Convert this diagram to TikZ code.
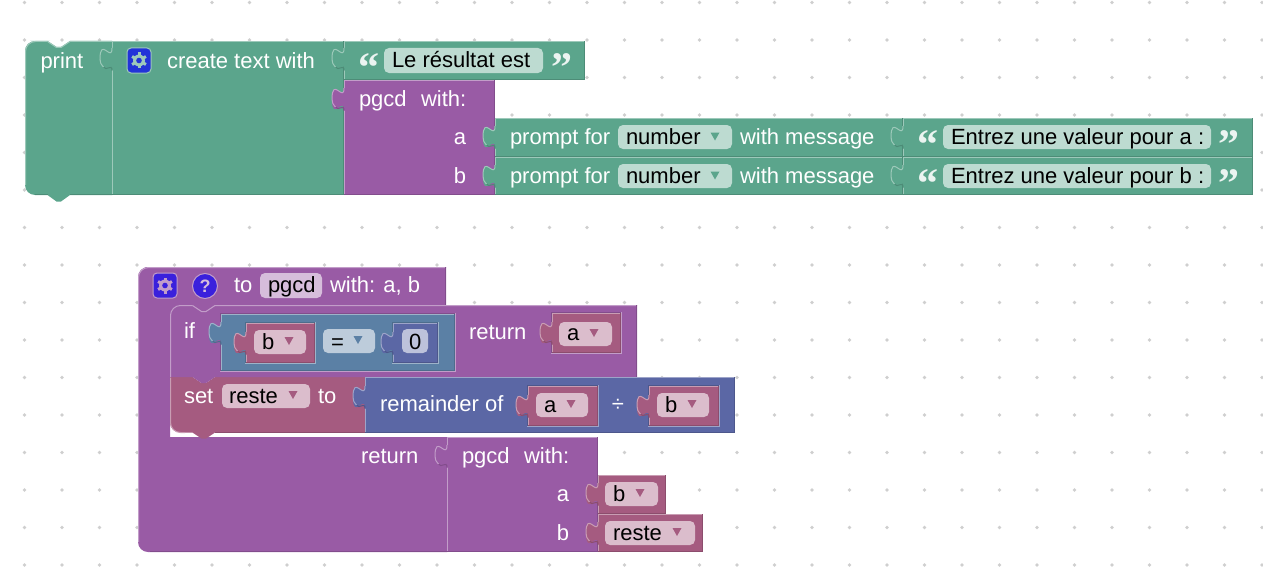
\documentclass[tikz,border=0pt]{standalone}
\usepackage{fontspec}
\setmainfont{Liberation Sans}
\newfontfamily\quotefont{Liberation Serif}
\usetikzlibrary{calc}

\definecolor{textgreen}{HTML}{5BA58C}
\definecolor{procpurple}{HTML}{995BA5}
\definecolor{varrose}{HTML}{A55B80}
\definecolor{mathblue}{HTML}{5B67A5}
\definecolor{logicblue}{HTML}{5B80A5}
\definecolor{griddot}{HTML}{CFCFCF}
\definecolor{geargreen}{HTML}{2233D8}
\definecolor{gearpurple}{HTML}{3A20DC}

\tikzset{
    lbl/.style={inner sep=0pt,outer sep=0pt,text=white,font=\fontsize{22}{26}\selectfont},
    lblw/.style={lbl,anchor=base west},
    lble/.style={lbl,anchor=base east},
    val/.style={lblw,text=black},
    quotemark/.style={inner sep=0pt,outer sep=0pt,anchor=base west,text=textgreen!12!white,font=\quotefont\bfseries\fontsize{42}{42}\selectfont},
}

\newcommand{\quoteglyph}[1]{\raisebox{-15.5pt}[13pt][0pt]{#1}}
% x1, y1, x2, y2, colour
\newcommand{\rectblock}[5]{
    \fill[#5] (#1,#2) rectangle (#3,#4);
    \draw[#5!60!white] (#1+.5,#4) -- (#1+.5,#2+.5) -- (#3,#2+.5);
    \draw[#5!85!black] (#1,#4-.5) -- (#3-.5,#4-.5) -- (#3-.5,#2);
}
% x1, y1, x2, y2, colour, parent colour
\newcommand{\insetblock}[6]{
    \draw[#6!85!black] (#1-.5,#4) -- (#1-.5,#2-.5) -- (#3,#2-.5);
    \draw[#6!60!white] (#1-1,#4+.5) -- (#3+.5,#4+.5) -- (#3+.5,#2-1);
    \rectblock{#1}{#2}{#3}{#4}{#5}
}
% edge x, top y, colour
\newcommand{\puzzletab}[3]{
    \fill[#3] (#1+1,#2+22.5) -- (#1,#2+22.5) .. controls (#1,#2+7.5) and (#1-12,#2+34.5) .. (#1-12,#2+11.25)
        .. controls (#1-12,#2-12) and (#1,#2+15) .. (#1,#2) -- (#1+1,#2) -- cycle;
    \draw[#3!85!black] (#1,#2+22.5) .. controls (#1,#2+15) and (#1-6,#2+24) .. (#1-8.5,#2+19);
    \draw[#3!60!white] (#1-8.5,#2+19) .. controls (#1-11,#2+16) and (#1-12,#2+15) .. (#1-12,#2+11.25)
        .. controls (#1-12,#2-12) and (#1,#2+15) .. (#1,#2);
}
% x1, y1, x2, y2, colour
\newcommand{\fieldbox}[5]{
    \fill[#5!40!white,rounded corners=5pt] (#1,#2) rectangle (#3,#4);
}
% centre x, centre y, colour
\newcommand{\droparrow}[3]{
    \fill[#3] (#1-4.5,#2-4) -- (#1+4.5,#2-4) -- (#1,#2+4) -- cycle;
}
% centre x, centre y, fill, light
\newcommand{\gearicon}[4]{
    \fill[#3,draw=#4,rounded corners=4pt] (#1-12,#2-12.5) rectangle (#1+12,#2+12.5);
    \foreach \a in {0,60,...,300}
        \draw[#4,line width=3pt] (#1,#2) -- +(\a+30:8);
    \fill[#4] (#1,#2) circle (6);
    \fill[#3] (#1,#2) circle (2.8);
}

\begin{document}
\begin{tikzpicture}[x=1pt,y=-1pt,line width=1pt]
    \useasboundingbox (0,0) rectangle (1263,586);

    \foreach \i in {0,...,33}
        \foreach \j in {-1,...,14}
            \fill[griddot] (24.5+37.5*\i,40+37.5*\j) circle (1.8);

    % top stack
    \fill[textgreen] (25,120) [rounded corners=10pt] -- (25,41) -- (40,41) [sharp corners] -- (47.5,41) -- (56.5,47) -- (61,47) -- (70,41) -- (112,41)
        -- (112,195) -- (70,195) -- (61,201.5) -- (56.5,201.5) -- (47.5,195) -- (40,195) [rounded corners=10pt] -- (25,195) -- (25,120) [sharp corners] -- cycle;
    \draw[textgreen!60!white,rounded corners=10pt] (25.5,185) -- (25.5,41.5) -- (47.5,41.5);
    \draw[textgreen!60!white] (47.5,41.5) -- (56.5,47.5) -- (61,47.5) -- (70,41.5) -- (112,41.5);
    \draw[textgreen!85!black] (35,194.5) -- (47.5,194.5);
    \draw[textgreen!85!black] (70,194.5) -- (112,194.5);
    \rectblock{112}{41}{344}{195}{textgreen}
    \rectblock{344}{41}{585}{80}{textgreen}
    \rectblock{344}{80}{495}{195}{procpurple}
    \rectblock{495}{118}{903}{157}{textgreen}
    \rectblock{903}{118}{1253}{157}{textgreen}
    \rectblock{495}{157}{903}{195}{textgreen}
    \rectblock{903}{157}{1253}{195}{textgreen}

    \puzzletab{112}{48}{textgreen}
    \puzzletab{344}{48}{textgreen}
    \puzzletab{344}{88}{procpurple}
    \puzzletab{495}{126}{textgreen}
    \puzzletab{495}{165}{textgreen}
    \puzzletab{903}{126}{textgreen}
    \puzzletab{903}{165}{textgreen}

    \node[lblw] (print) at (40.5,68) {print};
    \gearicon{139}{60.5}{geargreen}{textgreen!60!white}
    \node[lblw] (create) at (167,68) {create text with};

    \node[quotemark] (openmsg) at (358,66) {\quoteglyph{“}};
    \fieldbox{384}{48}{543}{73}{textgreen}
    \node[val] (msg) at (392,67) {Le résultat est};
    \node[quotemark] (closemsg) at (551,66) {\quoteglyph{”}};

    \node[lblw] (callname) at (359,106) {pgcd};
    \node[lblw] (callwith) at (421,106) {with:};
    \node[lble] (calla) at (466,144) {a};
    \node[lble] (callb) at (466,183) {b};

    \node[lblw] (prompta) at (510,144) {prompt for};
    \fieldbox{618}{125}{732}{149}{textgreen}
    \node[val] (typea) at (626,144) {number};
    \droparrow{715}{136.5}{textgreen}
    \node[lblw] (witha) at (740,144) {with message};
    \node[quotemark] (opena) at (917,143) {\quoteglyph{“}};
    \fieldbox{943}{125}{1211}{149}{textgreen}
    \node[val] (msga) at (951,144) {Entrez une valeur pour a :};
    \node[quotemark] (closea) at (1218,143) {\quoteglyph{”}};

    \node[lblw] (promptb) at (510,183) {prompt for};
    \fieldbox{618}{164}{732}{188}{textgreen}
    \node[val] (typeb) at (626,183) {number};
    \droparrow{715}{175.5}{textgreen}
    \node[lblw] (withb) at (740,183) {with message};
    \node[quotemark] (openb) at (917,182) {\quoteglyph{“}};
    \fieldbox{943}{164}{1211}{188}{textgreen}
    \node[val] (msgb) at (951,183) {Entrez une valeur pour b :};
    \node[quotemark] (closeb) at (1218,182) {\quoteglyph{”}};

    % function block
    \fill[procpurple] (138,400) [rounded corners=10pt] -- (138,267) -- (155,267) [sharp corners] -- (446,267) -- (446,305) -- (170,305) -- (170,437) -- (447,437)
        -- (447,552) -- (155,552) [rounded corners=10pt] -- (138,552) -- (138,400) [sharp corners] -- cycle;
    \fill[procpurple] (170,305) rectangle (220,317);
    \draw[procpurple!60!white,rounded corners=10pt] (138.5,542) -- (138.5,267.5) -- (446,267.5);
    \draw[procpurple!85!black] (445.5,267) -- (445.5,305);
    \draw[procpurple!85!black] (150,551.5) -- (447,551.5);

    \fill[varrose] (170,400) -- (170,377) -- (192.5,377) -- (201.5,383) -- (206,383) -- (215,377) -- (365,377) -- (365,432.5) -- (215,432.5)
        -- (206,438.5) -- (201.5,438.5) -- (192.5,432.5) -- (185,432.5) [rounded corners=10pt] -- (170,432.5) -- (170,400) [sharp corners] -- cycle;
    \draw[varrose!60!white,rounded corners=10pt] (185,432.5) -- (170.5,432.5) -- (170.5,377.5);
    \draw[varrose!85!black] (215,432) -- (365,432);

    \fill[procpurple] (170,340) [rounded corners=10pt] -- (170,305) -- (185,305) [sharp corners] -- (192.5,305) -- (201.5,311) -- (206,311) -- (215,305)
        -- (637,305) -- (637,377) -- (215,377) -- (206,383) -- (201.5,383) -- (192.5,377) -- (170,377) -- cycle;
    \draw[procpurple!60!white,rounded corners=10pt] (170.5,377) -- (170.5,305.5) -- (192.5,305.5);
    \draw[procpurple!60!white] (192.5,305.5) -- (201.5,311.5) -- (206,311.5) -- (215,305.5) -- (637,305.5);
    \draw[procpurple!85!black] (636.5,305) -- (636.5,377);

    \rectblock{365}{377}{735}{432.5}{mathblue}
    \rectblock{447}{437}{598}{552}{procpurple}
    \insetblock{221}{314}{455}{370.5}{logicblue}{procpurple}
    \insetblock{246}{323}{315}{363}{varrose}{logicblue}
    \insetblock{393}{323}{438}{363}{mathblue}{logicblue}
    \insetblock{552}{313}{621}{353}{varrose}{procpurple}
    \insetblock{528}{386}{598}{426}{varrose}{mathblue}
    \insetblock{649}{386}{719}{426}{varrose}{mathblue}
    \rectblock{598}{475}{666}{514}{varrose}
    \rectblock{598}{514}{703}{552}{varrose}

    \puzzletab{221}{322}{logicblue}
    \puzzletab{246}{332}{varrose}
    \puzzletab{393}{332}{mathblue}
    \puzzletab{552}{322}{varrose}
    \puzzletab{365}{386}{mathblue}
    \puzzletab{528}{395}{varrose}
    \puzzletab{649}{395}{varrose}
    \puzzletab{447}{445}{procpurple}
    \puzzletab{598}{483}{varrose}
    \puzzletab{598}{522}{varrose}

    \gearicon{165}{285.5}{gearpurple}{procpurple!60!white}
    \fill[gearpurple,draw=procpurple!60!white] (205,286) circle (12.5);
    \node[lbl,anchor=base,font=\bfseries\fontsize{18}{20}\selectfont,text=procpurple!40!white] (help) at (205,292.5) {?};
    \node[lblw] (defto) at (234,292) {to};
    \fieldbox{260}{273}{322}{298}{procpurple}
    \node[val] (defname) at (268,292) {pgcd};
    \node[lblw] (defargs) at (330,292) {with: a, b};

    \node[lblw] (iflabel) at (184,338) {if};
    \fieldbox{254}{330}{306}{354}{varrose}
    \node[val] (condb) at (262,349) {b};
    \droparrow{289}{341}{varrose}
    \fieldbox{323}{329}{375}{353}{logicblue}
    \node[val] (condop) at (331,349) {=};
    \droparrow{358}{340}{logicblue}
    \fieldbox{402}{329}{428}{353}{mathblue}
    \node[val] (condzero) at (409,349) {0};

    \node[lblw] (retif) at (469,339) {return};
    \fieldbox{559}{322}{612}{346}{varrose}
    \node[val] (reta) at (567,340) {a};
    \droparrow{594}{333}{varrose}

    \node[lblw] (setlabel) at (184,403) {set};
    \fieldbox{222}{384}{310}{408}{varrose}
    \node[val] (setname) at (229,403) {reste};
    \droparrow{293}{395}{varrose}
    \node[lblw] (setto) at (318,403) {to};

    \node[lblw] (remof) at (380,411) {remainder of};
    \fieldbox{536}{393}{588}{417}{varrose}
    \node[val] (rema) at (544,412) {a};
    \droparrow{571}{404}{varrose}
    \node[lbl,anchor=base] (remdiv) at (618,411) {÷};
    \fieldbox{657}{393}{709}{417}{varrose}
    \node[val] (remb) at (665,412) {b};
    \droparrow{692}{404}{varrose}

    \node[lblw] (retcall) at (361,463) {return};
    \node[lblw] (rname) at (462,463) {pgcd};
    \node[lblw] (rwith) at (524,463) {with:};
    \node[lble] (ra) at (569,501) {a};
    \node[lble] (rb) at (569,540) {b};
    \fieldbox{605}{482}{658}{506}{varrose}
    \node[val] (rvarb) at (613,501) {b};
    \droparrow{640}{493}{varrose}
    \fieldbox{605}{521}{695}{545}{varrose}
    \node[val] (rvarreste) at (613,540) {reste};
    \droparrow{677}{532}{varrose}
\end{tikzpicture}
\end{document}
